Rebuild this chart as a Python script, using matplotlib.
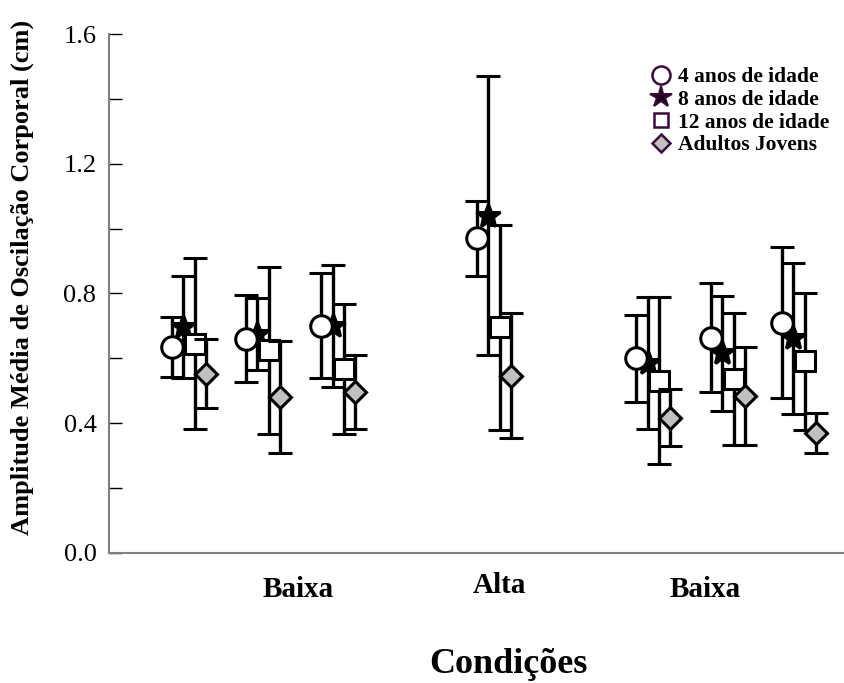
import matplotlib
matplotlib.use("Agg")
import matplotlib.pyplot as plt
from matplotlib.lines import Line2D
import numpy as np

plt.rcParams['font.family'] = ['Liberation Serif', 'DejaVu Serif']

# ---- data ----
group_pos = [1, 1.97, 2.96, 5.0, 7.09, 8.07, 9.0]
series_names = ["4 anos de idade", "8 anos de idade", "12 anos de idade", "Adultos Jovens"]

mean_4 = [0.635, 0.660, 0.700, 0.970, 0.600, 0.663, 0.710]
sd_4 = [0.093, 0.134, 0.162, 0.115, 0.134, 0.168, 0.233]

mean_8 = [0.697, 0.676, 0.700, 1.039, 0.586, 0.615, 0.662]
sd_8 = [0.158, 0.111, 0.188, 0.430, 0.204, 0.177, 0.233]

mean_12 = [0.644, 0.624, 0.567, 0.695, 0.531, 0.536, 0.590]
sd_12 = [0.264, 0.258, 0.201, 0.316, 0.258, 0.203, 0.211]

mean_ad = [0.552, 0.481, 0.496, 0.546, 0.417, 0.484, 0.369]
sd_ad = [0.107, 0.173, 0.114, 0.192, 0.089, 0.151, 0.062]

cond_labels = ["Baixa", "Alta", "Baixa"]
cond_label_x = [2.43, 5.07, 7.77]

y_ticks = [0.0, 0.4, 0.8, 1.2, 1.6]

# ---- figure ----
fig = plt.figure(figsize=(8.44, 6.83), dpi=100)
ax = fig.add_axes([0.129, 0.1908, 0.870, 0.7594])

offsets = [-0.222, -0.074, 0.074, 0.222]
means = [mean_4, mean_8, mean_12, mean_ad]
sds = [sd_4, sd_8, sd_12, sd_ad]
markers = ['o', '*', 's', 'D']
msizes = [15.5, 18, 14.5, 11]
faces = ['white', 'black', 'white', '#c0c0c0']
zorders = [4, 3, 5, 6]

gp = np.array(group_pos)
for i in range(4):
    ax.errorbar(gp + offsets[i], means[i], yerr=sds[i], fmt=markers[i],
                ms=msizes[i], mfc=faces[i], mec='black', mew=2.2,
                ecolor='black', elinewidth=2.4, capsize=8.5, capthick=2.4,
                color='black', zorder=zorders[i])

ax.set_ylim(0, 1.6)
ax.set_xlim(-0.05, 9.58)
ax.set_yticks(y_ticks)
ax.set_yticklabels([f"{v:.1f}" for v in y_ticks])
ax.set_yticks(np.arange(0.2, 1.6, 0.4), minor=True)
ax.set_xticks([])
ax.tick_params(axis='y', which='both', direction='in', length=9, width=1.0,
               color='black', labelsize=19, pad=9)
for s in ['top', 'right']:
    ax.spines[s].set_visible(False)
ax.spines['left'].set_color('#808080')
ax.spines['bottom'].set_color('#808080')
ax.spines['left'].set_linewidth(1.5)
ax.spines['bottom'].set_linewidth(1.5)

for lab, xx in zip(cond_labels, cond_label_x):
    yy = -0.10 if lab == "Alta" else -0.113
    ax.text(xx, yy, lab, ha='center', va='center', fontsize=21,
            fontweight='bold')

fig.text(0.603, 0.027, "Condições", ha='center', va='center', fontsize=26,
         fontweight='bold')
fig.text(0.027, 0.594, "Amplitude Média de Oscilação Corporal (cm)", ha='center',
         va='center', rotation=90, fontsize=19, fontweight='bold')

# legend (proxy handles with purple edges)
leg_edge = '#3a0a3a'
handles = [
    Line2D([], [], ls='none', marker='o', ms=13, mfc='white', mec=leg_edge, mew=1.8),
    Line2D([], [], ls='none', marker='*', ms=16, mfc='#1a001a', mec=leg_edge, mew=1.5),
    Line2D([], [], ls='none', marker='s', ms=9.5, mfc='white', mec=leg_edge, mew=1.8),
    Line2D([], [], ls='none', marker='D', ms=9.5, mfc='#c0c0c0', mec=leg_edge, mew=1.8),
]
leg = ax.legend(handles, series_names, loc='upper left',
                bbox_to_anchor=(0.737, 0.936), frameon=False,
                prop={'weight': 'bold', 'size': 15.5, 'family': 'Liberation Serif'},
                handlelength=1.0, handletextpad=0.3, labelspacing=0.12,
                borderpad=0.0, borderaxespad=0.0)

fig.savefig("out.png", dpi=100)
